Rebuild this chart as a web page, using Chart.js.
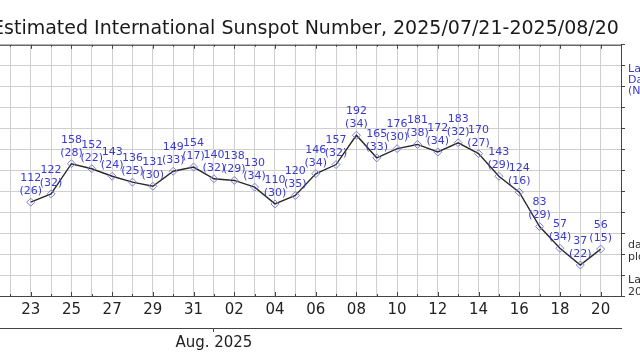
<!DOCTYPE html>
<html><head><meta charset="utf-8">
<script src="https://cdn.jsdelivr.net/npm/chart.js@4/dist/chart.umd.min.js"></script>
<style>
html,body{margin:0;padding:0;background:#fff;overflow:hidden;width:640px;height:360px;}
#wrap{position:absolute;left:-60px;top:0;width:760px;height:360px;}
canvas{display:block;}
</style></head><body>
<div id="wrap"><canvas id="c" width="760" height="360"></canvas></div>
<script>
const TITLE = 'Estimated International Sunspot Number, 2025/07/21-2025/08/20';
// day index counted from June 30 (Jul d = d, Aug d = 31 + d)
const days   = [23,24,25,26,27,28,29,30,31,32,33,34,35,36,37,38,39,40,41,42,43,44,45,46,47,48,49,50,51];
const values = [112,122,158,152,143,136,131,149,154,140,138,130,110,120,146,157,192,165,176,181,172,183,170,143,124,83,57,37,56];
const stations = [26,32,28,22,24,25,30,33,17,32,29,34,30,35,34,32,34,33,30,38,34,32,27,29,16,29,34,22,15];
const xMin = 21, xMax = 52;
const yMin = 0, yMax = 300, yStep = 25;
const monthLabel = 'Aug. 2025';
const monthStart = 32;
const sideBlue = ['Label:', 'Daily value', '(Nb. of stations)'];
const sideDark1 = ['daily values', 'plotted'];
const sideDark2 = ['Last update:', '2025/08/21'];

const FONT = "'DejaVu Sans', sans-serif";
const AX = '#444';
const GRID = '#cfcfcf';

function dayLabel(v){
  v = Math.round(v);
  if (v <= 31) return String(v);
  const d = v - 31;
  return d < 10 ? '0' + d : String(d);
}

const framePlugin = {
  id: 'frame',
  afterDraw(chart){
    const {ctx, chartArea:a, scales:{x}} = chart;
    ctx.save();
    ctx.strokeStyle = AX; ctx.lineWidth = 1;
    ctx.beginPath();
    ctx.moveTo(a.left, a.top + 0.5); ctx.lineTo(a.right, a.top + 0.5);
    for (let v = xMin; v <= xMax; v++){
      const px = Math.round(x.getPixelForValue(v)) + 0.5;
      const len = (v % 2 === 1) ? 4 : 2;
      ctx.moveTo(px, a.top); ctx.lineTo(px, a.top + len);
      ctx.moveTo(px, a.bottom); ctx.lineTo(px, a.bottom - len);
    }
    ctx.stroke();
    // side texts (cut at the right edge as in the reference)
    ctx.font = "11px " + FONT;
    ctx.textBaseline = 'middle';
    ctx.textAlign = 'left';
    const sx = a.right + 7;
    ctx.fillStyle = '#3a3acc';
    sideBlue.forEach((t,i)=>ctx.fillText(t, sx, 69 + i*11.3));
    ctx.fillStyle = '#333';
    sideDark1.forEach((t,i)=>ctx.fillText(t, sx, 245 + i*11.7));
    sideDark2.forEach((t,i)=>ctx.fillText(t, sx, 280 + i*11.7));
    ctx.restore();
  }
};

const labelPlugin = {
  id: 'valueLabels',
  afterDatasetsDraw(chart){
    const {ctx} = chart;
    const meta = chart.getDatasetMeta(0);
    ctx.save();
    ctx.font = "11px " + FONT;
    ctx.fillStyle = '#3a3acc';
    ctx.textAlign = 'center';
    ctx.textBaseline = 'middle';
    meta.data.forEach((el,i)=>{
      ctx.fillText(String(values[i]), el.x, el.y - 24);
      ctx.fillText('(' + stations[i] + ')', el.x, el.y - 11);
    });
    ctx.restore();
  }
};

new Chart(document.getElementById('c'), {
  type: 'line',
  data: {
    datasets: [{
      data: days.map((d,i)=>({x:d, y:values[i]})),
      borderColor: '#2a2a2a',
      borderWidth: 1.4,
      tension: 0,
      pointStyle: 'rectRot',
      pointRadius: 4,
      pointBorderWidth: 1,
      pointBorderColor: '#7c7cdc',
      pointBackgroundColor: 'rgba(255,255,255,0)',
      xAxisID: 'x', yAxisID: 'y'
    }]
  },
  options: {
    responsive: false,
    devicePixelRatio: 1,
    animation: false,
    layout: {padding: {left: 50, top: 0, right: 0, bottom: 0}},
    plugins: {
      legend: {display: false},
      tooltip: {enabled: false},
      title: {
        display: true, text: TITLE, fullSize: false,
        color: '#1a1a1a',
        font: {family: FONT, size: 19, weight: 'normal', lineHeight: 1.2},
        padding: {top: 18, bottom: 4}
      }
    },
    scales: {
      x: {
        type: 'linear', position: 'bottom', min: xMin, max: xMax, weight: 0,
        afterFit(s){ s.height = 32; },
        ticks: {stepSize: 1, autoSkip: false, maxRotation: 0, padding: 5,
                color: '#222', font: {family: FONT, size: 15},
                callback: v => (Math.round(v) % 2 === 1 ? dayLabel(v) : '')},
        grid: {color: GRID, drawTicks: false},
        border: {display: true, color: AX, width: 1}
      },
      x2: {
        type: 'linear', position: 'bottom', min: xMin, max: xMax, weight: 1,
        afterFit(s){ s.height = 32; },
        afterBuildTicks(s){ s.ticks = [{value: monthStart}]; },
        ticks: {autoSkip: false, maxRotation: 0, padding: 2, color: '#222',
                font: {family: FONT, size: 15}, callback: () => monthLabel},
        grid: {drawOnChartArea: false, drawTicks: true, tickLength: 4, tickColor: AX},
        border: {display: true, color: AX, width: 1}
      },
      y: {
        type: 'linear', position: 'right', min: yMin, max: yMax,
        afterFit(s){ s.width = 79; },
        ticks: {stepSize: yStep, display: false},
        grid: {color: GRID, drawTicks: true, tickLength: 4, tickColor: AX},
        border: {display: true, color: AX, width: 1}
      }
    }
  },
  plugins: [framePlugin, labelPlugin]
});
</script>
</body></html>
